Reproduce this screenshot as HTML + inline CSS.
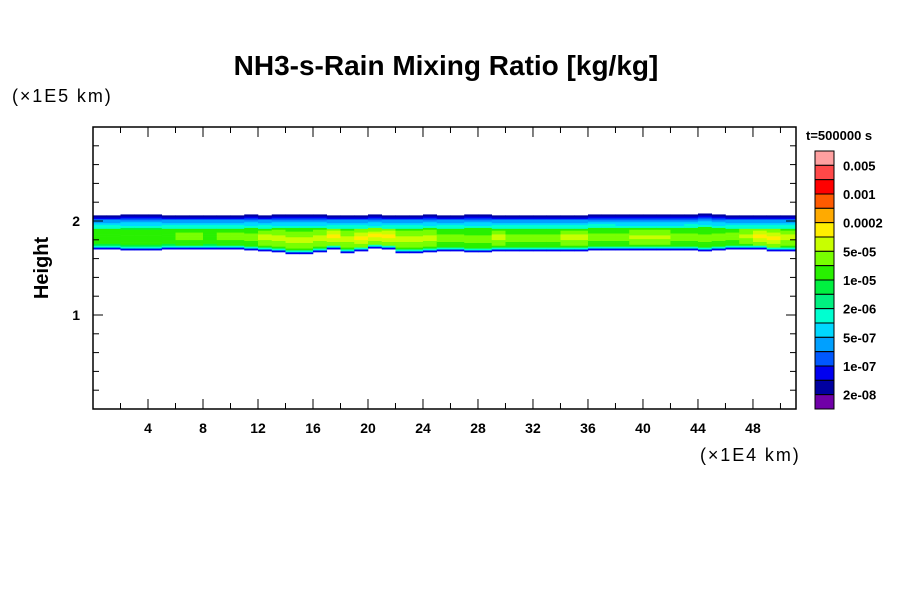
<!DOCTYPE html>
<html><head><meta charset="utf-8"><style>
body{margin:0;background:#fff}
svg text{font-family:"Liberation Sans",sans-serif}
</style></head><body>
<svg id="chart" width="900" height="600" xmlns="http://www.w3.org/2000/svg">
<rect width="900" height="600" fill="#fff"/>
<text x="446" y="75" font-size="28" font-weight="bold" text-anchor="middle">NH3-s-Rain Mixing Ratio [kg/kg]</text>
<text x="12" y="102" font-size="18" letter-spacing="1.9">(×1E5 km)</text>
<text x="700" y="461" font-size="18" letter-spacing="1.9">(×1E4 km)</text>
<text transform="translate(48,268) rotate(-90)" font-size="20" font-weight="bold" text-anchor="middle">Height</text>
<text x="806" y="140" font-size="13" font-weight="bold">t=500000 s</text>
<g id="field"></g>
<g id="axes"></g>
<g id="cbar"></g>
</svg>
<script>
const colors=["#ffa0a0","#ff4848","#ff0000","#ff5a00","#ffaa00","#ffee00","#c8ff00","#78ff00","#28f000","#00f040","#00f080","#00ffd0","#00d8ff","#00a0ff","#0058ff","#0000f0","#0000a0","#7000a8"];
const cbarLabels=["0.005","0.001","0.0002","5e-05","1e-05","2e-06","5e-07","1e-07","2e-08"];
const xTicks=[4,8,12,16,20,24,28,32,36,40,44,48];
const yTicks=[1,2];
// columns x = 0..51 (×1E4 km)
const bandTop=[2.06,2.06,2.06,2.06,2.06,2.06,2.06,2.06,2.06,2.06,2.06,2.06,2.06,2.06,2.06,2.06,2.06,2.06,2.06,2.06,2.06,2.06,2.06,2.06,2.06,2.06,2.06,2.06,2.06,2.06,2.06,2.06,2.06,2.06,2.06,2.06,2.07,2.07,2.06,2.06,2.06,2.06,2.06,2.07,2.07,2.06,2.06,2.06,2.06,2.06,2.06,2.06];
const bandBottom=[1.70,1.70,1.69,1.69,1.69,1.70,1.70,1.70,1.70,1.70,1.70,1.69,1.68,1.67,1.65,1.65,1.67,1.70,1.66,1.68,1.71,1.70,1.66,1.66,1.67,1.68,1.68,1.67,1.67,1.68,1.68,1.68,1.68,1.68,1.68,1.68,1.69,1.69,1.69,1.69,1.69,1.69,1.69,1.69,1.68,1.69,1.70,1.70,1.70,1.68,1.68,1.68];
const bandPeak=[8,8,8,8,8,8,7,7,8,7,7,7,6,6,6,6,6,5,6,5,5,5,6,6,6,7,7,7,7,6,7,7,7,7,6,6,7,7,7,6,6,6,7,7,7,7,7,6,5,5,6,6];
const X0=93,X1=796,Y0=409,Y1=127,XMAX=51.13,YMAX=3.0;
const sx=v=>X0+v*(X1-X0)/XMAX, sy=v=>Y0-v*(Y0-Y1)/YMAX;
const NS="http://www.w3.org/2000/svg";
function mk(t,a,p){const e=document.createElementNS(NS,t);for(const k in a)e.setAttribute(k,a[k]);p.appendChild(e);return e;}
const field=document.getElementById('field');
function level(i,h){
  const t=bandTop[i],b=bandBottom[i],pk=bandPeak[i];
  const dT=t-h,dB=h-b;
  let lt=dT<0.02?16:dT<0.035?15:dT<0.05?14:dT<0.075?13:dT<0.1?12:dT<0.13?11:0;
  let lb=dB<0.012?15:dB<0.025?13:dB<0.04?11:0;
  const p=(h-b)/(t-b);
  const lc=Math.round(pk+(9-pk)*Math.min(1,Math.abs(p-0.38)/0.42));
  return Math.max(lt,lb,lc);
}
for(let i=0;i<bandTop.length;i++){
  const xa=sx(i),xb=Math.min(sx(i+1),X1);
  if(xa>=X1)break;
  for(let h=bandBottom[i];h<bandTop[i]-1e-6;h+=0.02){
    const r=mk('rect',{x:xa,y:sy(h+0.02),width:xb-xa+0.3,height:sy(h)-sy(h+0.02)+0.3,fill:colors[level(i,h+0.01)]},field);
    
    
  }
}
const ax=document.getElementById('axes');
mk('rect',{x:X0,y:Y1,width:X1-X0,height:Y0-Y1,fill:'none',stroke:'#000','stroke-width':1.5},ax);
for(let v=2;v<XMAX;v+=2){const M=v%4===0,L=M?10:6,x=sx(v);
  mk('line',{x1:x,x2:x,y1:Y0,y2:Y0-L,stroke:'#000'},ax);mk('line',{x1:x,x2:x,y1:Y1,y2:Y1+L,stroke:'#000'},ax);}
for(let k=1;k<15;k++){const v=k*0.2,M=k%5===0,L=M?10:6,y=sy(v);
  mk('line',{x1:X0,x2:X0+L,y1:y,y2:y,stroke:'#000'},ax);mk('line',{x1:X1,x2:X1-L,y1:y,y2:y,stroke:'#000'},ax);}
xTicks.forEach(v=>{const t=mk('text',{x:sx(v),y:433,'font-size':14,'font-weight':'bold','text-anchor':'middle'},ax);t.textContent=v;
  
  });
yTicks.forEach(v=>{const t=mk('text',{x:80,y:sy(v)+5,'font-size':14,'font-weight':'bold','text-anchor':'end'},ax);t.textContent=v;
  
  });
const cb=document.getElementById('cbar');
const CT=151,CB=409,CH=(CB-CT)/colors.length;
colors.forEach((c,k)=>{const r=mk('rect',{x:815,y:CT+k*CH,width:19,height:CH,fill:c,stroke:'#000','stroke-width':1},cb);
  
  });
cbarLabels.forEach((l,k)=>{const t=mk('text',{x:843,y:CT+(2*k+1)*CH+5,'font-size':13,'font-weight':'bold'},cb);t.textContent=l;
  
  });
</script>
</body></html>
